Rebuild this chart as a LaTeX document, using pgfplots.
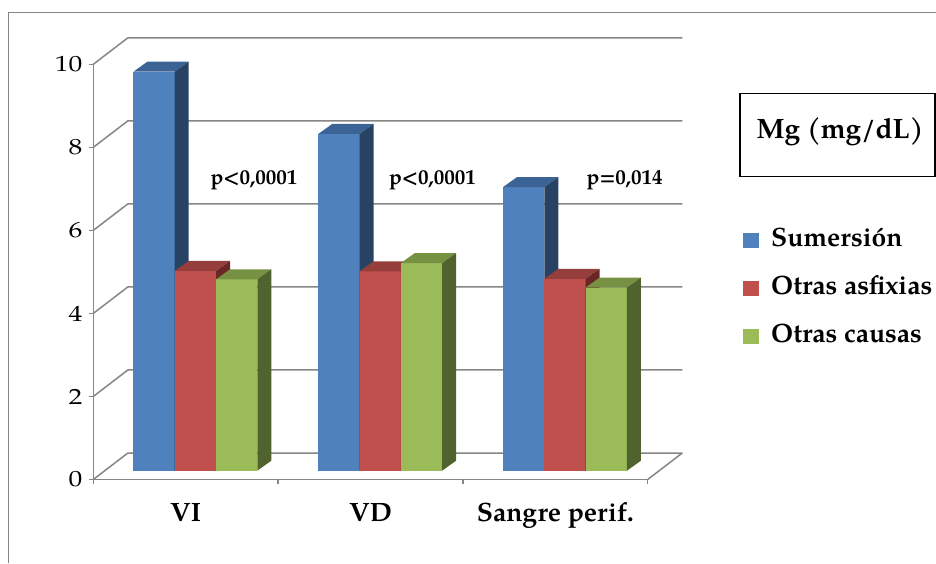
\documentclass[border=0pt]{standalone}
\usepackage{fontspec}
\setmainfont{TeX Gyre Pagella}
\usepackage{graphicx}
\usepackage{pgfplots}
\usepackage{pgfplotstable}
\pgfplotsset{compat=1.18}

\definecolor{gridgray}{RGB}{134,134,134}
\definecolor{sumF}{RGB}{79,129,189}
\definecolor{sumT}{RGB}{60,99,150}
\definecolor{sumS}{RGB}{40,66,100}
\definecolor{asfF}{RGB}{192,80,77}
\definecolor{asfT}{RGB}{150,62,60}
\definecolor{asfS}{RGB}{105,38,36}
\definecolor{otrF}{RGB}{155,187,89}
\definecolor{otrT}{RGB}{119,145,67}
\definecolor{otrS}{RGB}{80,98,45}

% Mg (mg/dL) by sample and cause of death
\pgfplotstableread{
cat sum asf otr
0 9.61 4.81 4.61
1 8.11 4.80 5.00
2 6.83 4.62 4.41
}\mgdata

% oblique view, in axis units
\def\wallx{0.187}   % back wall offset
\def\wally{0.638}
\def\basey{0.212}   % bar front face base
\def\barw{0.2235}   % bar width
\def\depx{0.0758}   % bar depth
\def\depy{0.241}
\def\gstart{0.217}  % first bar of a group

% one 3-D column: #1 left x, #2 value, #3 front, #4 top, #5 side colour
\newcommand\cube[5]{%
  \pgfmathsetmacro\xa{#1}%
  \pgfmathsetmacro\xb{#1+\barw}%
  \pgfmathsetmacro\yb{\basey+#2}%
  \pgfmathsetmacro\xc{\xa+\depx}%
  \pgfmathsetmacro\xd{\xb+\depx}%
  \pgfmathsetmacro\yc{\yb+\depy}%
  \pgfmathsetmacro\yd{\basey+\depy}%
  \addplot[fill=#3,draw=none,forget plot] coordinates {(\xa,\basey) (\xb,\basey) (\xb,\yb) (\xa,\yb)} -- cycle;
  \addplot[fill=#4,draw=none,forget plot] coordinates {(\xa,\yb) (\xb,\yb) (\xd,\yc) (\xc,\yc)} -- cycle;
  \addplot[fill=#5,draw=none,forget plot] coordinates {(\xb,\basey) (\xd,\yd) (\xd,\yc) (\xb,\yb)} -- cycle;
}

\begin{document}
\begin{tikzpicture}[x=1pt,y=1pt]
\path[use as bounding box] (0,0) rectangle (936,563);
\begin{axis}[
  at={(93.3pt,83.5pt)}, anchor=south west,
  scale only axis, width=554.4pt, height=415.2pt,
  xmin=0, xmax=3, ymin=0, ymax=10,
  clip=false,
  axis x line*=bottom, axis y line*=left,
  axis line style={gridgray, line width=1.5pt},
  x axis line style={-}, y axis line style={-},
  tick align=outside,
  major tick length=4.5pt,
  every tick/.style={gridgray, line width=1.5pt},
  ytick={0,2,...,10},
  /pgf/number format/assume math mode=true,
  yticklabel={\scalebox{1.25}[1]{\pgfmathprintnumber{\tick}}},
  yticklabel style={font=\fontsize{22}{26}\selectfont, xshift=-3pt},
  xtick={0,1,2,3}, xticklabels={,,,},
  extra x ticks={0.5,1.5,2.5},
  extra x tick labels={VI,VD,Sangre perif.},
  extra x tick style={major tick length=0pt},
  xticklabel style={font=\fontsize{26.5}{31}\selectfont\bfseries, anchor=base, yshift=-42.2pt},
  legend style={at={(axis description cs:1.1724,0.605)}, anchor=north west,
    draw=none, fill=none, inner sep=0pt, row sep=24.2pt,
    /tikz/column sep=11.7pt,
    font=\fontsize{26.5}{31}\selectfont\bfseries,
    nodes={inner sep=0pt, text height=18pt, text depth=6pt}},
  legend cell align=left,
  legend image code/.code={\fill[#1] (0pt,-7.5pt) rectangle (16pt,7.5pt);},
]
% back wall and floor
\pgfplotsinvokeforeach{0,2,...,10}{
  \pgfmathsetmacro\gy{#1+\wally}
  \pgfmathsetmacro\ge{3+\wallx}
  \addplot[gridgray, line width=1.5pt, forget plot] coordinates {(0,#1) (\wallx,\gy) (\ge,\gy)};
}
\pgfmathsetmacro\ge{3+\wallx}
\addplot[gridgray, line width=1.5pt, forget plot] coordinates {(3,0) (\ge,\wally)};

% columns
\pgfplotsinvokeforeach{0,1,2}{
  \pgfplotstablegetelem{#1}{sum}\of\mgdata \let\vA\pgfplotsretval
  \pgfplotstablegetelem{#1}{asf}\of\mgdata \let\vB\pgfplotsretval
  \pgfplotstablegetelem{#1}{otr}\of\mgdata \let\vC\pgfplotsretval
  \cube{#1+\gstart}{\vA}{sumF}{sumT}{sumS}
  \cube{#1+\gstart+\barw}{\vB}{asfF}{asfT}{asfS}
  \cube{#1+\gstart+2*\barw}{\vC}{otrF}{otrT}{otrS}
}

\addlegendimage{fill=sumF, draw=none}
\addlegendentry{Sumersión}
\addlegendimage{fill=asfF, draw=none}
\addlegendentry{Otras asfixias}
\addlegendimage{fill=otrF, draw=none}
\addlegendentry{Otras causas}

\node[font=\fontsize{21}{25}\selectfont\bfseries, anchor=base] at (axis cs:0.8696,7.11) {p<0,0001};
\node[font=\fontsize{21}{25}\selectfont\bfseries, anchor=base] at (axis cs:1.8355,7.11) {p<0,0001};
\node[font=\fontsize{21}{25}\selectfont\bfseries, anchor=base] at (axis cs:2.8755,7.11) {p=0,014};
\end{axis}

% chart frame and title box
\draw[gridgray, line width=1.5pt] (8.3,0) -- (8.3,550.7) -- (936,550.7);
\draw[black, line width=1.3pt] (740,386.3) rectangle (935,469.7);
\node[font=\fontsize{28}{33}\selectfont\bfseries, anchor=base] at (840,424.7) {Mg (mg/dL)};
\end{tikzpicture}
\end{document}
